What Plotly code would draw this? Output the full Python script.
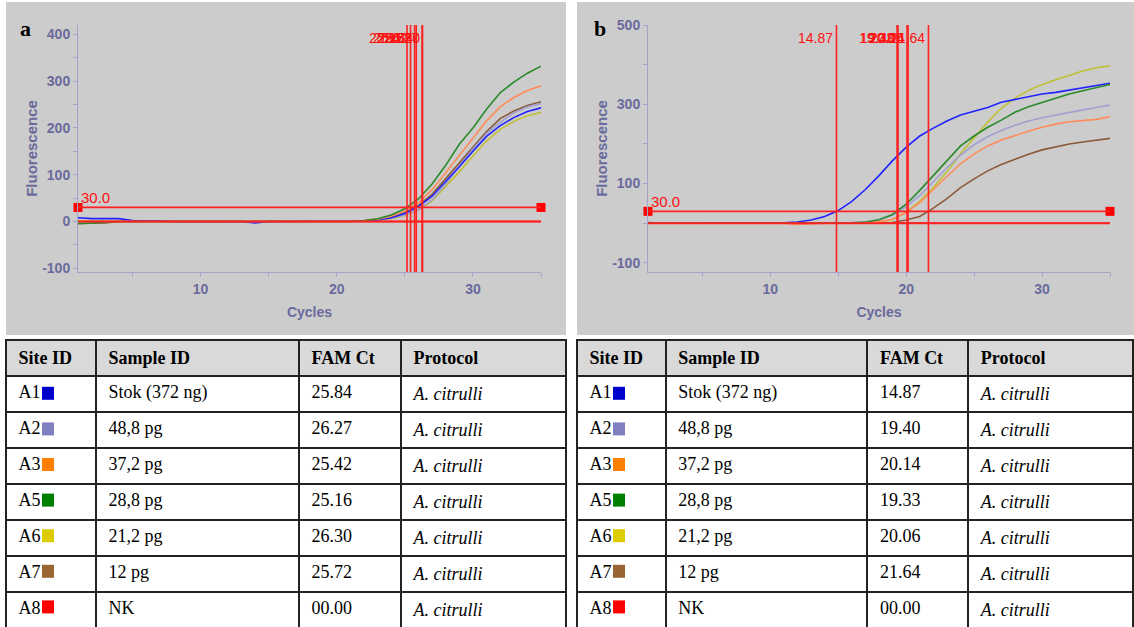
import plotly.graph_objects as go

W, H = 1134, 627

# ---------------- data ----------------
cycles = list(range(1, 36))
site_ids = ["A1", "A2", "A3", "A5", "A6", "A7", "A8"]
sample_ids = ["Stok (372 ng)", "48,8 pg", "37,2 pg", "28,8 pg", "21,2 pg", "12 pg", "NK"]
ct_a = [25.84, 26.27, 25.42, 25.16, 26.30, 25.72, 0.00]
ct_b = [14.87, 19.40, 20.14, 19.33, 20.06, 21.64, 0.00]
protocol = ["A. citrulli"] * 7
threshold = 30.0

square_colors = ["#0000cc", "#8080c0", "#ff8000", "#008000", "#dccc00", "#996633", "#ff0000"]
line_colors = ["#2222ff", "#a0a0d2", "#ff8c5a", "#2a8a2a", "#c0c035", "#8b5a3a", "#ff0000"]

# panel a fluorescence (cycles 1..35)
a_A1 = [8, 6, 6, 6, 2, 2, 1, 0, 0, 0, 0, 0, 0, -3, 0, 0, 0, 0, 0, 0, 0, 1, 3, 8, 17, 32, 54, 85, 117, 150, 182, 205, 222, 235, 243]
a_A2 = [0, 0, 1, 1, 1, 0, 0, 0, 0, 0, 0, 0, 0, 0, 0, 0, 0, 0, 0, 0, 0, 1, 3, 7, 14, 25, 46, 80, 118, 155, 188, 212, 232, 245, 252]
a_A3 = [0, 0, 0, 0, 0, 0, 0, 0, 0, 0, 0, 0, 0, 0, 0, 0, 0, 0, 0, 0, 0, 2, 5, 11, 22, 40, 68, 104, 142, 178, 215, 245, 265, 280, 290]
a_A5 = [-5, -3, -2, 0, 0, 0, 0, 0, 0, 0, 0, 0, 0, 0, 0, 0, 0, 0, 0, 0, 0, 2, 6, 14, 27, 48, 80, 120, 165, 200, 240, 275, 298, 317, 332]
a_A6 = [2, 1, 1, 0, 0, 0, 0, 0, 0, 0, 0, 0, 0, 0, 0, 0, 0, 0, 0, 0, 0, 1, 2, 6, 13, 24, 44, 74, 106, 140, 172, 197, 214, 226, 233]
a_A7 = [-4, -4, -3, 0, 0, 0, 0, 0, 0, 0, 0, 0, 0, 0, 0, 0, 0, 0, 0, 0, 0, 1, 4, 10, 19, 34, 58, 92, 126, 160, 192, 220, 236, 248, 256]
a_A8 = [0] * 35

# panel b fluorescence (cycles 1..35)
b_A1 = [0, 0, 0, 0, 0, 0, 0, 0, 0, 0, 1, 3, 8, 17, 32, 55, 85, 120, 158, 192, 220, 240, 258, 273, 283, 292, 305, 312, 320, 326, 330, 336, 342, 347, 353]
b_A2 = [0, 0, 0, 0, 0, 0, 0, 0, 0, 0, 0, 0, 0, 0, 0, 1, 3, 8, 21, 42, 70, 105, 140, 172, 198, 218, 234, 247, 258, 266, 273, 280, 286, 292, 298]
b_A3 = [0, 0, 0, 0, 0, 0, 0, 0, 0, 0, 0, -3, -1, 0, 0, 0, 1, 4, 10, 27, 52, 85, 118, 150, 175, 195, 210, 222, 232, 242, 250, 256, 259, 262, 269]
b_A5 = [2, 0, 0, 0, 0, 0, 0, 0, 0, 0, 0, 0, 0, 0, 0, 1, 3, 9, 22, 48, 83, 120, 158, 195, 220, 242, 260, 280, 294, 305, 315, 326, 334, 342, 350]
b_A6 = [1, 0, 0, 0, 0, 0, 0, 0, 0, 0, 0, 0, 0, 0, 0, 0, 1, 3, 9, 28, 55, 90, 130, 175, 215, 255, 290, 315, 335, 350, 362, 374, 384, 392, 397]
b_A7 = [0, 0, 0, 0, 0, 0, 0, 0, 0, 0, 0, 0, 0, 0, 0, 0, 0, 0, 2, 8, 17, 38, 62, 90, 112, 132, 148, 162, 174, 185, 193, 200, 205, 210, 214]
b_A8 = [0] * 35

series_a = [a_A1, a_A2, a_A3, a_A5, a_A6, a_A7, a_A8]
series_b = [b_A1, b_A2, b_A3, b_A5, b_A6, b_A7, b_A8]

yticks_a = [-100, 0, 100, 200, 300, 400]
yticks_b = [-100, 100, 300, 500]
xticks = [10, 20, 30]

# ---------------- styling helpers ----------------
def px_x(p):
    return p / W

def px_y(p):
    return 1 - p / H

AX_COL = "#6a6a9c"
LINE_COL = "#a4a4c8"
SANS = "Liberation Sans"
SERIF = "Liberation Serif"
NB = "\u00a0"

fig = go.Figure()

order = [6, 5, 4, 1, 0, 2, 3]  # draw NK first
for xa, ya, data in (("x", "y", series_a), ("x2", "y2", series_b)):
    for i in order:
        fig.add_trace(go.Scatter(
            x=cycles, y=data[i], xaxis=xa, yaxis=ya, mode="lines",
            line=dict(color=line_colors[i], width=1.6), showlegend=False,
            hoverinfo="skip"))
    fig.add_trace(go.Scatter(
        x=[cycles[0], cycles[-1]], y=[threshold, threshold], xaxis=xa, yaxis=ya,
        mode="markers", marker=dict(symbol="square", size=9, color="#ff0000"),
        cliponaxis=False, showlegend=False, hoverinfo="skip"))

shapes = []
annotations = []
# gray panel backgrounds
shapes.append(dict(type="rect", xref="paper", yref="paper", x0=px_x(6), x1=px_x(566),
                   y0=px_y(335), y1=px_y(2), fillcolor="#cccccc", line=dict(width=0), layer="below"))
shapes.append(dict(type="rect", xref="paper", yref="paper", x0=px_x(577), x1=px_x(1134),
                   y0=px_y(335), y1=px_y(2), fillcolor="#cccccc", line=dict(width=0), layer="below"))

for xa, ya, cts in (("x", "y", ct_a), ("x2", "y2", ct_b)):
    shapes.append(dict(type="line", xref=xa + " domain", yref=ya, x0=0, x1=1,
                       y0=threshold, y1=threshold, line=dict(color="#ff2020", width=1.8)))
    shapes.append(dict(type="line", xref=xa + " domain", yref=ya, x0=0, x1=1,
                       y0=0, y1=0, line=dict(color="#ff2020", width=1.8)))
    for c in cts:
        if c > 0:
            shapes.append(dict(type="line", xref=xa, yref=ya + " domain", x0=c, x1=c,
                               y0=0, y1=1, line=dict(color="#ff2020", width=1.6)))
            annotations.append(dict(x=c, xref=xa, y=px_y(38), yref="paper", text=f"{c:.2f}",
                                    showarrow=False, xanchor="right", yanchor="middle", xshift=-1,
                                    font=dict(family=SANS, size=14, color="#ff1010")))
    annotations.append(dict(x=cycles[0], xref=xa, y=threshold, yref=ya, text=f"{threshold:.1f}",
                            showarrow=False, xanchor="left", yanchor="bottom", xshift=1, yshift=-1,
                            font=dict(family=SANS, size=15, color="#ff1010")))

annotations.append(dict(x=px_x(18), y=px_y(29), xref="paper", yref="paper", text="<b>a</b>",
                        showarrow=False, xanchor="left", yanchor="middle",
                        font=dict(family=SERIF, size=22, color="black")))
annotations.append(dict(x=px_x(592), y=px_y(29), xref="paper", yref="paper", text="<b>b</b>",
                        showarrow=False, xanchor="left", yanchor="middle",
                        font=dict(family=SERIF, size=22, color="black")))

tickfont = dict(family=SANS, size=14, color=AX_COL, weight="bold")
xtitlefont = dict(family=SANS, size=14, color=AX_COL, weight="bold")
ytitlefont = dict(family=SANS, size=15, color=AX_COL, weight="bold")

def xaxis(domain, anchor):
    return dict(domain=domain, anchor=anchor, range=[1, 35], tickvals=xticks,
                ticktext=[str(t) for t in xticks], automargin=False,
                ticks="outside", ticklen=4, tickcolor=LINE_COL, showline=True, linecolor=LINE_COL,
                linewidth=1, showgrid=False, zeroline=False, tickfont=tickfont,
                title=dict(text="Cycles", font=xtitlefont, standoff=11),
                minor=dict(dtick=5, tick0=0, ticks="outside", ticklen=4, tickcolor=LINE_COL))

def yaxis(domain, anchor, rng, tickvals, minor_dtick):
    return dict(domain=domain, anchor=anchor, range=rng, tickvals=tickvals,
                ticktext=[str(t) for t in tickvals], automargin=False,
                ticks="outside", ticklen=4, tickcolor=LINE_COL, showline=True, linecolor=LINE_COL,
                linewidth=1, showgrid=False, zeroline=False, tickfont=tickfont,
                title=dict(text="Fluorescence", font=ytitlefont, standoff=0),
                minor=dict(dtick=minor_dtick, tick0=0, ticks="outside", ticklen=4, tickcolor=LINE_COL))

ydom = [px_y(272), px_y(25)]

# ---------------- tables ----------------
TOP, HEAD_H, ROW_H = 340, 36, 35.6

def table_cells(cts):
    col1 = [NB + s for s in site_ids]
    col2 = [NB + s for s in sample_ids]
    col3 = [NB + f"{v:05.2f}" for v in cts]
    col4 = [NB + f"<i>{p}</i>" for p in protocol]
    return [col1, col2, col3, col4]

headers = [NB + "<b>Site ID</b>", NB + "<b>Sample ID</b>", NB + "<b>FAM Ct</b>", NB + "<b>Protocol</b>"]
for (x0, x1, widths, cts) in ((6, 566, [90, 203, 102, 165], ct_a), (577, 1134, [89, 202, 101, 165], ct_b)):
    fig.add_trace(go.Table(
        domain=dict(x=[px_x(x0), px_x(x1)], y=[px_y(627), px_y(TOP)]),
        columnwidth=widths,
        header=dict(values=headers, fill_color="#d9d9d9", align="left", height=HEAD_H,
                    line=dict(color="#222222", width=2),
                    font=dict(family=SERIF, size=18, color="black")),
        cells=dict(values=table_cells(cts), fill_color="white", align="left", height=ROW_H,
                   line=dict(color="#222222", width=2),
                   font=dict(family=SERIF, size=18, color="black"))))
    # colour swatches next to the site IDs
    for i, col in enumerate(square_colors):
        yc = TOP + HEAD_H + ROW_H * (i + 0.5)
        shapes.append(dict(type="rect", xref="paper", yref="paper",
                           x0=px_x(x0 + 36), x1=px_x(x0 + 48),
                           y0=px_y(yc + 6), y1=px_y(yc - 7),
                           fillcolor=col, line=dict(width=0), layer="above"))

fig.update_layout(
    width=W, height=H, margin=dict(l=0, r=0, t=0, b=0, pad=0, autoexpand=False),
    paper_bgcolor="white", plot_bgcolor="white", showlegend=False,
    xaxis=xaxis([px_x(78), px_x(541)], "y"),
    yaxis=yaxis(ydom, "x", [-108, 420], yticks_a, 50),
    xaxis2=xaxis([px_x(648), px_x(1110)], "y2"),
    yaxis2=yaxis(ydom, "x2", [-123, 500], yticks_b, 100),
    shapes=shapes, annotations=annotations,
)

fig.write_html("out.html", config={"displayModeBar": False},
               post_script="document.body.style.margin='0';document.body.style.overflow='hidden';")
